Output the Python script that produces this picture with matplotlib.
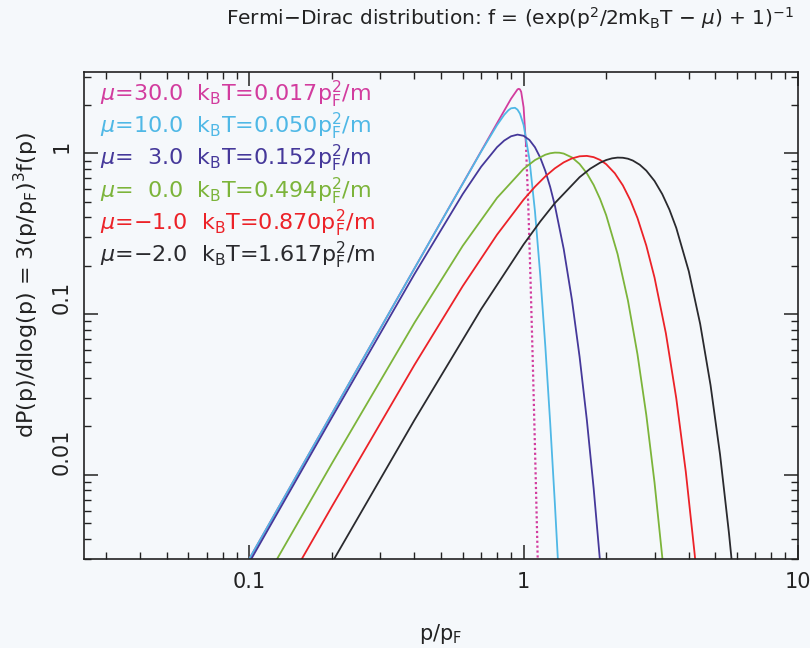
import matplotlib
matplotlib.use("Agg")
import matplotlib.pyplot as plt

plt.rcParams['font.family'] = ['DejaVu Sans']
plt.rcParams['mathtext.fontset'] = 'dejavusans'

# ---- data (p/pF , dP/dlog p) ----
mu30_x = [0.1, 0.5, 0.8, 0.9, 0.95, 0.96, 0.97, 0.98, 1.0, 1.02,
          1.04, 1.06, 1.08, 1.10, 1.12, 1.13]
mu30_y = [0.003, 0.375, 1.536, 2.182, 2.494, 2.516, 2.495, 2.406, 1.93, 1.128,
          0.4746, 0.1616, 0.0506, 0.01486, 0.00429, 0.00228]

mu10_x = [0.1, 0.5, 0.7, 0.8, 0.85, 0.88, 0.9, 0.93, 0.95, 0.97, 1.0, 1.05,
          1.1, 1.15, 1.2, 1.25, 1.3, 1.33, 1.34]
mu10_y = [0.003, 0.3748, 1.023, 1.495, 1.734, 1.8505, 1.903, 1.917, 1.867,
          1.7622, 1.5, 0.917, 0.4357, 0.1745, 0.0629, 0.02105, 0.00664,
          0.00323, 0.00253]

mu3_x = [0.1, 0.2, 0.4, 0.6, 0.7, 0.8, 0.85, 0.9, 0.95, 1.0, 1.05, 1.1,
         1.15, 1.2, 1.25, 1.3, 1.4, 1.5, 1.6, 1.7, 1.8, 1.9, 1.95]
mu3_y = [0.00285, 0.02271, 0.1771, 0.5573, 0.8235, 1.0905, 1.1993, 1.275,
         1.306, 1.284, 1.2095, 1.0897, 0.939, 0.776, 0.6169, 0.4735, 0.254,
         0.1227, 0.0541, 0.02198, 0.00826, 0.002877, 0.001652]

mu0_x = [0.125, 0.13, 0.2, 0.4, 0.6, 0.8, 1.0, 1.1, 1.2, 1.25, 1.3, 1.35,
         1.4, 1.5, 1.6, 1.7, 1.8, 1.9, 2.0, 2.2, 2.4, 2.6, 2.8, 3.0, 3.2, 3.25]
mu0_y = [0.002907, 0.003267, 0.01176, 0.08824, 0.2656, 0.5276, 0.7997,
         0.9069, 0.979, 0.9996, 1.0092, 1.0076, 0.9954, 0.9419, 0.857,
         0.7507, 0.635, 0.5192, 0.4116, 0.2364, 0.1215, 0.05626, 0.02358,
         0.008966, 0.003102, 0.002345]

mum1_x = [0.15, 0.16, 0.2, 0.4, 0.6, 0.8, 1.0, 1.1, 1.2, 1.3, 1.4, 1.5, 1.6,
          1.7, 1.8, 1.9, 2.0, 2.15, 2.3, 2.45, 2.6, 2.8, 3.0, 3.3, 3.6, 3.9,
          4.2, 4.3]
mum1_y = [0.002697, 0.003269, 0.006347, 0.04825, 0.1492, 0.3117, 0.5147,
          0.6192, 0.7181, 0.8057, 0.8773, 0.9284, 0.9572, 0.9627, 0.9457,
          0.9087, 0.8547, 0.7507, 0.6312, 0.5095, 0.3956, 0.2666, 0.1687,
          0.0759, 0.03, 0.01047, 0.003236, 0.002132]

mum2_x = [0.2, 0.21, 0.4, 0.7, 1.0, 1.15, 1.3, 1.6, 1.75, 1.9, 2.0, 2.1, 2.2,
          2.3, 2.4, 2.5, 2.65, 2.8, 3.0, 3.2, 3.4, 3.6, 4.0, 4.4, 4.8, 5.2,
          5.6, 5.8]
mum2_y = [0.00283, 0.003272, 0.02191, 0.1072, 0.2711, 0.3764, 0.4897, 0.71,
          0.802, 0.8733, 0.9073, 0.9296, 0.9395, 0.9374, 0.9247, 0.9009,
          0.8484, 0.7797, 0.6724, 0.5576, 0.4458, 0.3436, 0.1844, 0.08689,
          0.03617, 0.01335, 0.004379, 0.002405]

labels = [
    r'$\mu$=30.0  k$_{\rm B}$T=0.017p$_{\rm F}^{2}$/m',
    r'$\mu$=10.0  k$_{\rm B}$T=0.050p$_{\rm F}^{2}$/m',
    r'$\mu$=  3.0  k$_{\rm B}$T=0.152p$_{\rm F}^{2}$/m',
    r'$\mu$=  0.0  k$_{\rm B}$T=0.494p$_{\rm F}^{2}$/m',
    r'$\mu$=$-$1.0  k$_{\rm B}$T=0.870p$_{\rm F}^{2}$/m',
    r'$\mu$=$-$2.0  k$_{\rm B}$T=1.617p$_{\rm F}^{2}$/m',
]
colors = ['#d23c9e', '#4fb8e6', '#45389a', '#7cb43a', '#ec2228', '#2a2a2e']

xticks = [0.1, 1, 10]
xticklabels = ['0.1', '1', '10']
yticks = [0.01, 0.1, 1]
yticklabels = ['0.01', '0.1', '1']

bg = '#f5f8fb'
ink = '#222222'
fig = plt.figure(figsize=(8.1, 6.48), dpi=100, facecolor=bg)
ax = fig.add_axes([84/810, 1-559/648, (798-84)/810, (559-72)/648])
ax.set_facecolor(bg)
ax.set_xscale('log')
ax.set_yscale('log')
ax.set_xlim(0.025, 10)
ax.set_ylim(0.003, 3.2)

series = [(mu30_x, mu30_y), (mu10_x, mu10_y), (mu3_x, mu3_y),
          (mu0_x, mu0_y), (mum1_x, mum1_y), (mum2_x, mum2_y)]

lw = 1.3
for i, ((xs, ys), c) in enumerate(zip(series, colors)):
    if i == 0:
        split = 10
        ax.plot(xs[:split], ys[:split], color=c, lw=lw)
        ax.plot(xs[split-1:], ys[split-1:], color=c, lw=1.6, ls=(0, (1, 1.2)))
    else:
        ax.plot(xs, ys, color=c, lw=lw)

for i, (lab, c) in enumerate(zip(labels, colors)):
    ax.text(0.022, 0.955 - i*0.0665, lab, color=c, fontsize=16,
            transform=ax.transAxes, va='center', ha='left')

ax.set_xticks(xticks)
ax.set_xticklabels(xticklabels)
ax.set_yticks(yticks)
ax.set_yticklabels(yticklabels, rotation=90, va='bottom')
ax.tick_params(which='both', direction='in', top=True, right=True,
               labelsize=15, color=ink, labelcolor=ink)
ax.tick_params(which='major', length=10, width=1.1, pad=9)
ax.tick_params(which='minor', length=5, width=1.0)
ax.tick_params(axis='y', which='major', pad=9)
for s in ax.spines.values():
    s.set_linewidth(1.2)
    s.set_color(ink)

ax.set_xlabel(r'p/p$_{\rm F}$', fontsize=15, labelpad=22, color=ink)
ax.set_ylabel(r'dP(p)/dlog(p) = 3(p/p$_{\rm F}$)$^{3}$f(p)', fontsize=16,
              color=ink)
ax.yaxis.set_label_coords(-0.060, 0.563)
ax.set_title(r'Fermi$-$Dirac distribution: f = (exp(p$^{2}$/2mk$_{\rm B}$T $-$ $\mu$) + 1)$^{-1}$',
             fontsize=14.5, pad=34, color=ink, x=0.597)

fig.savefig('out.png', dpi=100, facecolor=bg)
